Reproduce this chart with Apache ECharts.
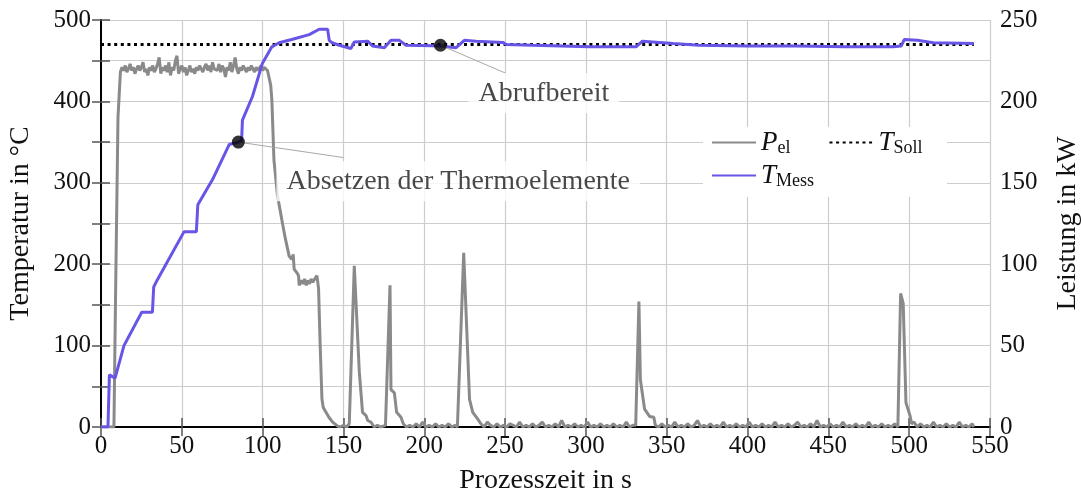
<!DOCTYPE html>
<html>
<head>
<meta charset="utf-8">
<script src="https://cdn.jsdelivr.net/npm/echarts@6/dist/echarts.min.js"></script>
<style>
html,body{margin:0;padding:0;background:#fff;overflow:hidden;}
#chart{width:1081px;height:492px;}
</style>
</head>
<body>
<div id="chart"></div>
<script>
// ---- data ----
const xTicks = [0, 550, 50];          // min, max, step (s)
const tempTicks = [0, 500, 100];      // °C
const powerTicks = [0, 250, 50];      // kW

const tSoll = [[0, 470], [540, 470]];

const tMess = [[0,0],[4.3,0],[5.2,64],[8.7,60],[14.2,100],[25.2,141],[31.8,141],[32.6,172],[34.9,181],
  [51.4,240],[59,240],[59.9,273],[69,304],[79.3,347],[85,350],[87,352],[87.5,377],[93.7,406],[99.9,447],
  [105.7,467],[110.2,472],[118,476],[128.8,482],[135,488.6],[140.2,488.6],[141.2,475],[143,472],[147.4,469],
  [154.6,465],[156.7,473],[165,474],[168,468],[175.3,466],[179.4,475],[184.6,475],[188.7,469],[205,468.5],
  [210.4,468],[219.7,466],[224.8,475],[232,474],[248.6,472.5],[250.7,470],[267,469],[302,467],[331,467],
  [335,474],[354,471],[370,469],[400,468],[430,468],[460,467],[490,467],[495,468],[497,476],[505,475],
  [515,472],[540,471]];

const pEl = [[0,0],[8,0],[9,80],[10.5,190],[12,218],
  [13,221],[14,219],[15,222],[16,218],[17,220],[18,223],[19,219],[20,221],[21,217],[22,220],[23,222],[24,219],
  [25,221],[26,224],[27,218],[28,220],[29,216],[30,221],[31,219],[32,222],[33,218],[34,220],[35,223],[36,227],
  [37,217],[38,221],[39,219],[40,222],[41,218],[42,224],[43,216],[44,221],[45,219],[46,225],[47,228],[48,217],
  [49,220],[50,222],[51,218],[52,221],[53,216],[54,219],[55,222],[56,218],[57,220],[58,217],[59,221],[60,219],
  [61,222],[62,220],[63,218],[64,221],[65,223],[66,219],[67,222],[68,218],[69,224],[70,220],[71,221],[72,219],
  [73,223],[74,218],[75,222],[76,220],[77,215],[78,221],[79,219],[80,224],[81,218],[82,222],[83,227],[84,220],
  [85,217],[86,221],[87,219],[88,222],[89,220],[90,218],[91,221],[92,219],[93,222],[94,220],[95,218],[96,221],
  [97,219],[98,220],[99,222],[100,219],[101,221],[102,220],[103,219],
  [104,218],[105,210],[105.7,201],[107,164],[109.2,142],[112.3,125],[114,116],[116.4,105],[118,103],[118.9,106],
  [119.5,97],[121,95],[122.2,93],[122.6,87],[124,90],[125,88],[126,91],[127,87],[128,90],[129,88],[130,91],
  [131,89],[132,90],[133.6,93],[134.6,85],[135.6,50],[136.7,17],[137.5,12],[139.2,9],[141,6],[143.3,3],
  [146.4,0.5],[148,0],[150,1],[152,0],
  [153.6,2],[156.7,99],[159.8,34],[161.8,9],[164,7],[165,4],[167,3],[169,0],[171,1],[173,0],
  [176,1],[178.8,87],[179.4,23],[181.5,21],[182.9,9],[185.6,6],[187,2],[189,0],
  [191,1],[193,0],[195,2],[197,0],[199,3],[201,0],[203,1],[205,0],[207,2],[209,0],[211,1],[213,0],[215,2],
  [217,0],[219,1],[220.5,0],
  [221.7,1],[224.4,107],[228,17],[230,9],[233,5],[235,2],
  [237,0],[239,3],[241,1],[243,0],[245,2],[247,0],[249,1],[251,0],[253,2],[255,1],[257,0],[259,3],[261,0],
  [263,1],[265,0],[267,2],[269,0],[271,1],[273,3],[275,0],[277,1],[279,0],[281,2],[283,0],[285,4],[287,0],
  [289,1],[291,0],[293,2],[295,0],[297,1],[299,0],[301,3],[303,0],[305,1],[307,0],[309,2],[311,0],[313,1],
  [315,0],[317,2],[319,0],[321,1],[323,0],[325,3],[327,0],[329,1],
  [330.8,1],[332.8,77],[333.7,29],[336.3,11],[339.4,6.5],[342,6],[343,1],
  [345,0],[347,2],[349,0],[351,1],[353,0],[355,3],[357,0],[359,1],[361,0],[363,2],[365,0],[367,1],[369,4],
  [371,0],[373,1],[375,0],[377,2],[379,0],[381,1],[383,0],[385,3],[387,0],[389,1],[391,0],[393,2],[395,0],
  [397,1],[399,0],[401,3],[403,0],[405,1],[407,0],[409,2],[411,0],[413,1],[415,0],[417,3],[419,0],[421,1],
  [423,0],[425,2],[427,0],[429,1],[431,3],[433,0],[435,1],[437,0],[439,2],[441,0],[443,4],[445,0],[447,1],
  [449,0],[451,2],[453,0],[455,1],[457,0],[459,3],[461,0],[463,1],[465,0],[467,2],[469,0],[471,1],[473,0],
  [475,3],[477,0],[479,1],[481,0],[483,2],[485,0],[487,1],[489,0],[491,2],[493,0],
  [493.8,1],[494.7,82],[496.3,76],[498,15],[500.5,7],[501.5,2],
  [503,3],[505,0],[507,2],[509,0],[511,1],[513,0],[515,3],[517,0],[519,1],[521,0],[523,2],[525,0],[527,1],
  [529,0],[531,3],[533,0],[535,1],[537,0],[539,2],[540,0]];

const annotPoints = [[85, 350], [210, 469]];
const annotLabels = ['Absetzen der Thermoelemente', 'Abrufbereit'];
const annotLabelAt = [[221, 302], [274, 410]];
const annotLeaderEnd = [[150, 331], [250, 435]];

// ---- chart ----
const FONT = '"Liberation Serif", "DejaVu Serif", serif';
const GRID = '#cdcdcd';
const TICK = '#555';
const chart = echarts.init(document.getElementById('chart'), null, {renderer: 'canvas'});

const richLegend = {
  i: {fontFamily: FONT, fontStyle: 'italic', fontSize: 27, color: '#111', lineHeight: 30},
  s: {fontFamily: FONT, fontSize: 18, color: '#111', verticalAlign: 'bottom', lineHeight: 18}
};
const legendNames = {P_el: '{i|P}{s|el}', T_Soll: '{i|T}{s|Soll}', T_Mess: '{i|T}{s|Mess}'};

const series = [
  {name: 'P_el', type: 'line', yAxisIndex: 1, data: pEl, showSymbol: false, symbol: 'none',
   lineStyle: {color: '#8a8a8a', width: 3}, itemStyle: {color: '#8a8a8a'}, z: 2, animation: false},
  {name: 'T_Soll', type: 'line', data: tSoll, showSymbol: false, symbol: 'none',
   lineStyle: {color: '#000', width: 3, type: [3, 3.6]}, itemStyle: {color: '#000'}, z: 3, animation: false},
  {name: 'T_Mess', type: 'line', data: tMess, showSymbol: false, symbol: 'none',
   lineStyle: {color: '#6655e6', width: 3}, itemStyle: {color: '#6655e6'}, z: 4, animation: false}
];
annotPoints.forEach((p, k) => {
  series.push({type: 'line', data: [p, annotLeaderEnd[k]], symbol: 'none', silent: true,
    lineStyle: {color: '#a8a8a8', width: 1}, z: 5, animation: false});
});
series.push({type: 'scatter', data: annotPoints, symbolSize: 13, itemStyle: {color: '#000'}, z: 6, animation: false});
series.push({type: 'scatter', symbolSize: 0, z: 7, animation: false,
  data: annotLabels.map((n, k) => ({name: n, value: annotLabelAt[k]})),
  label: {show: true, position: 'inside', formatter: '{b}', fontFamily: FONT, fontSize: 28, color: '#1a1a1a',
    backgroundColor: '#fff', padding: [6, 10, 6, 10]}});

const valAxisCommon = {
  axisLine: {show: true, lineStyle: {color: '#000', width: 2}},
  axisTick: {show: true, inside: true, length: 9, lineStyle: {color: TICK, width: 1.5}},
  axisLabel: {fontFamily: FONT, fontSize: 25, color: '#111'},
  nameTextStyle: {fontFamily: FONT, fontSize: 28, color: '#111'},
  nameLocation: 'middle'
};

chart.setOption({
  animation: false,
  backgroundColor: '#fff',
  grid: {left: 101, right: 91, top: 20, bottom: 65, containLabel: false, outerBoundsMode: 'none'},
  xAxis: [
    Object.assign({}, valAxisCommon, {type: 'value', position: 'bottom', min: xTicks[0], max: xTicks[1], interval: xTicks[2],
      name: 'Prozesszeit in s', nameGap: 40,
      axisLabel: Object.assign({}, valAxisCommon.axisLabel, {margin: 7}),
      splitLine: {show: true, lineStyle: {color: GRID, width: 1.2}}}),
    Object.assign({}, valAxisCommon, {type: 'value', position: 'top', min: xTicks[0], max: xTicks[1], interval: xTicks[2],
      axisLabel: {show: false}, splitLine: {show: false}})
  ],
  yAxis: [
    Object.assign({}, valAxisCommon, {type: 'value', position: 'left', min: tempTicks[0], max: tempTicks[1], interval: tempTicks[2],
      name: 'Temperatur in °C', nameGap: 66,
      axisLabel: Object.assign({}, valAxisCommon.axisLabel, {margin: 10}),
      minorTick: {show: true, splitNumber: 2, length: 9, lineStyle: {color: TICK, width: 1.5}},
      splitLine: {show: true, lineStyle: {color: GRID, width: 1.2}},
      minorSplitLine: {show: true, lineStyle: {color: GRID, width: 1.2}}}),
    Object.assign({}, valAxisCommon, {type: 'value', position: 'right', min: powerTicks[0], max: powerTicks[1], interval: powerTicks[2],
      name: 'Leistung in kW', nameGap: 64,
      axisLabel: Object.assign({}, valAxisCommon.axisLabel, {margin: 10}),
      minorTick: {show: true, splitNumber: 2, length: 9, lineStyle: {color: TICK, width: 1.5}},
      splitLine: {show: false}})
  ],
  graphic: [{type: 'rect', left: 703, top: 127, shape: {width: 244, height: 70}, style: {fill: '#fff'}, z: 3, silent: true}],
  legend: [
    {data: ['P_el', 'T_Soll'], left: 711, top: 129, padding: 0, itemWidth: 44, itemHeight: 14, itemGap: 38,
     itemStyle: {opacity: 0},
     formatter: n => legendNames[n], textStyle: {rich: richLegend}, z: 10, selectedMode: false},
    {data: ['T_Mess'], left: 711, top: 162, padding: 0, itemWidth: 44, itemHeight: 14,
     itemStyle: {opacity: 0},
     formatter: n => legendNames[n], textStyle: {rich: richLegend}, z: 10, selectedMode: false}
  ],
  series: series
});
</script>
</body>
</html>
